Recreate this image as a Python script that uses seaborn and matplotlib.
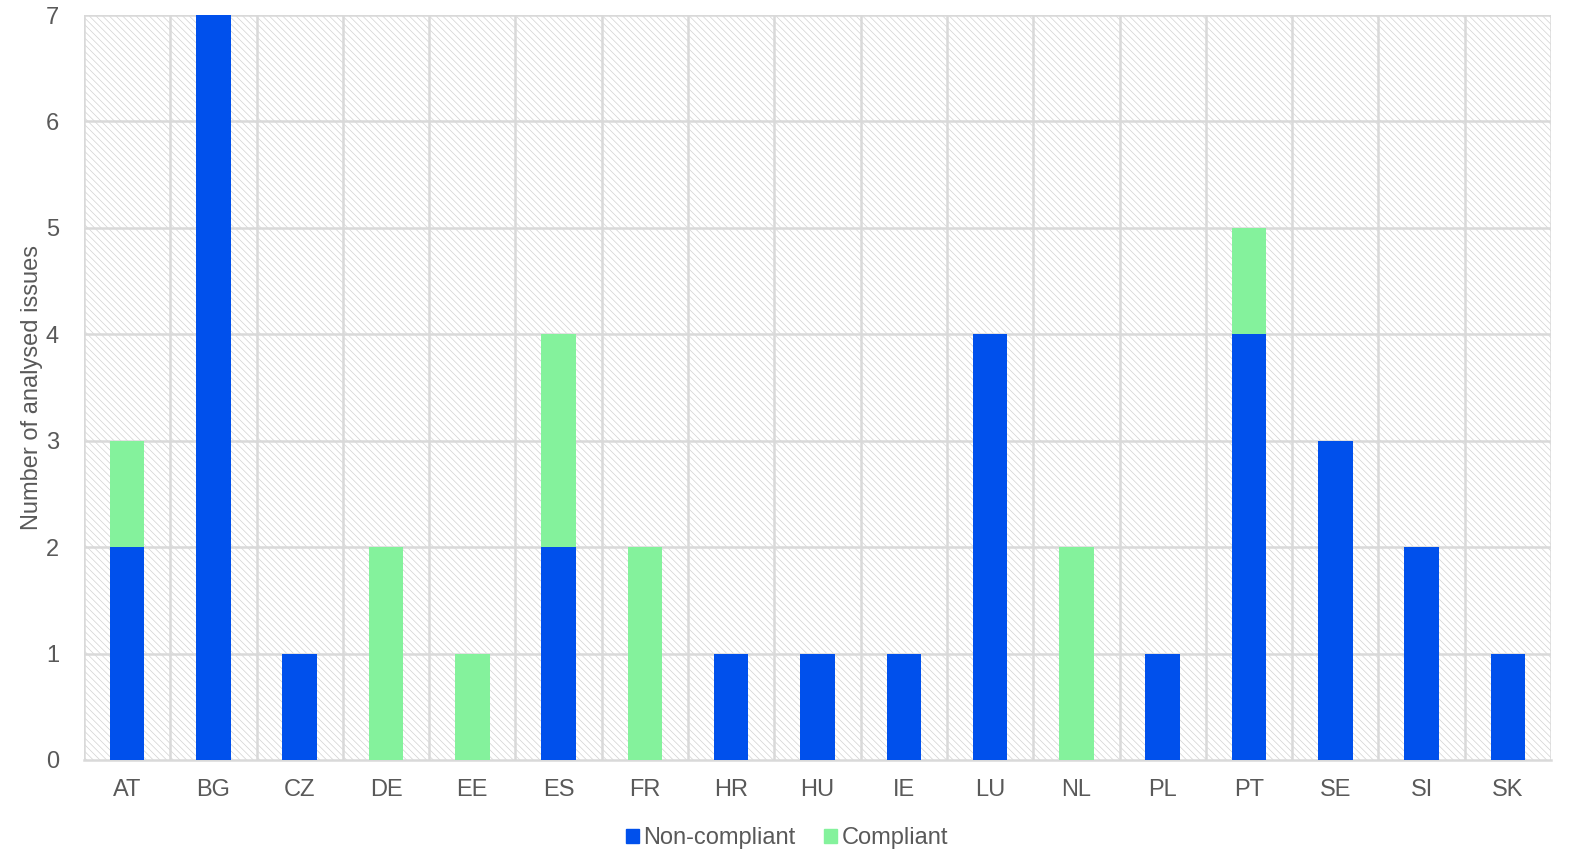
import numpy as np
import pandas as pd
import matplotlib
matplotlib.use("Agg")
import matplotlib.pyplot as plt
import seaborn as sns
from matplotlib.patches import Rectangle, Patch

countries = ["AT", "BG", "CZ", "DE", "EE", "ES", "FR", "HR", "HU", "IE",
             "LU", "NL", "PL", "PT", "SE", "SI", "SK"]
non_compliant = [2, 7, 1, 0, 0, 2, 0, 1, 1, 1, 4, 0, 1, 4, 3, 2, 1]
compliant = [1, 0, 0, 2, 1, 2, 2, 0, 0, 0, 0, 2, 0, 1, 0, 0, 0]

blue = "#0050EC"
green = "#84F29C"
text_c = "#595959"
grid_c = "#D9D9D9"

sns.set_style("white")
plt.rcParams["font.family"] = ["Liberation Sans", "DejaVu Sans"]
plt.rcParams["hatch.linewidth"] = 0.5

df = pd.DataFrame({"country": countries,
                   "non": non_compliant,
                   "total": np.array(non_compliant) + np.array(compliant)})

fig = plt.figure(figsize=(15.79, 8.60), dpi=100)
ax = fig.add_axes([84 / 1579, 100 / 860, (1551 - 84) / 1579, (760 - 15) / 860])

# hatched background
ax.add_patch(Rectangle((0, 0), 1, 1, transform=ax.transAxes, facecolor="white",
                       edgecolor="#D2D2D2", hatch="\\\\\\\\\\", linewidth=0, zorder=0))

sns.barplot(data=df, x="country", y="total", color=green, width=0.4,
            saturation=1, linewidth=0, ax=ax, zorder=3)
sns.barplot(data=df, x="country", y="non", color=blue, width=0.4,
            saturation=1, linewidth=0, ax=ax, zorder=4)

ax.set_xlim(-0.5, len(countries) - 0.5)
ax.set_ylim(0, 7)
ax.set_yticks(range(0, 8))
for y in range(1, 8):
    ax.axhline(y, color=grid_c, lw=1.8, zorder=1)
for x in np.arange(-0.5, len(countries), 1):
    ax.axvline(x, color=grid_c, lw=1.8, zorder=1)

for s in ["top", "right", "left"]:
    ax.spines[s].set_visible(False)
ax.spines["bottom"].set_color(grid_c)
ax.spines["bottom"].set_linewidth(1.8)

ax.tick_params(axis="both", length=0, labelsize=17, colors=text_c, pad=14)
ax.tick_params(axis="y", pad=18)
ax.set_xlabel("")
ax.set_ylabel("Number of analysed issues", fontsize=17, color=text_c, labelpad=2)

handles = [Patch(color=blue, label="Non-compliant"), Patch(color=green, label="Compliant")]
fig.legend(handles=handles, loc="center", bbox_to_anchor=(787 / 1579, 1 - 838 / 860),
           ncol=2, frameon=False, fontsize=17, handlelength=0.55, handleheight=0.55,
           handletextpad=0.2, columnspacing=1.2, labelcolor=text_c)

fig.savefig("out.png", dpi=100)
